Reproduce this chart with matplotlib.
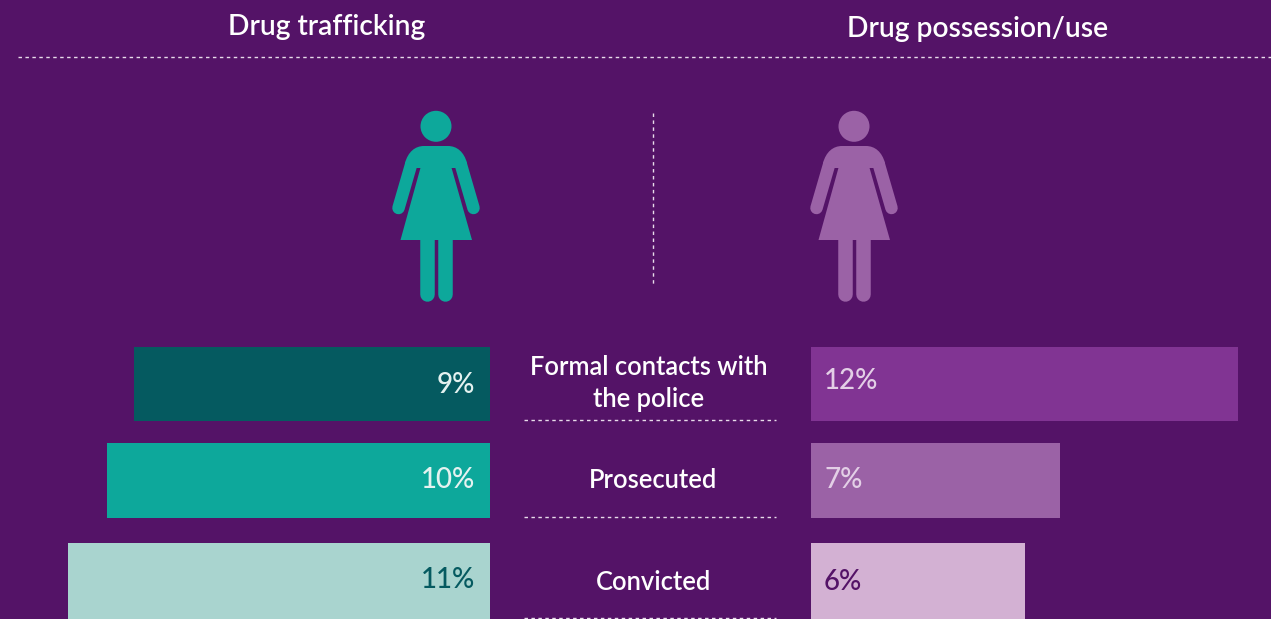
import matplotlib
matplotlib.use("Agg")
import matplotlib.pyplot as plt
from matplotlib.path import Path
from matplotlib.patches import PathPatch, Circle

plt.rcParams['font.family'] = ['Lato', 'DejaVu Sans']

# Data
stages = ["Formal contacts with\nthe police", "Prosecuted", "Convicted"]
trafficking = [9.3, 10.0, 11.0]
trafficking_labels = ["9%", "10%", "11%"]
possession = [12, 7, 6]
possession_labels = ["12%", "7%", "6%"]
titles = ["Drug trafficking", "Drug possession/use"]

BG = "#541367"
W, H = 1271, 619
fig = plt.figure(figsize=(W / 100, H / 100), dpi=100, facecolor=BG)

base = fig.add_axes([0, 0, 1, 1])
base.set_xlim(0, W)
base.set_ylim(H, 0)
base.axis("off")

y_pos = [384, 480.5, 581]
bar_h = [74, 74.5, 76]


def bar_axes(x0, x1, xlim):
    a = fig.add_axes([x0 / W, 0, (x1 - x0) / W, 1])
    a.set_xlim(*xlim)
    a.set_ylim(H, 0)
    a.axis("off")
    a.patch.set_alpha(0)
    return a


PX_L, PX_R = 38.3, 35.6
left = bar_axes(0, 489.7, (489.7 / PX_L, 0))
right = bar_axes(811, W, (0, (W - 811) / PX_R))

left.barh(y_pos, trafficking, height=bar_h, color=["#055a60", "#0da89b", "#a9d4cf"])
right.barh(y_pos, possession, height=bar_h, color=["#813493", "#9b62a6", "#d3b1d3"])

FS = 20
for y, lab, c, dy in zip(y_pos, trafficking_labels, ["#e4f2f0", "#e4f2f0", "#055a60"], [1, 0, -1.5]):
    left.annotate(lab, (0, y + dy), xytext=(-15 * 0.72, 0), textcoords="offset points",
                  ha="right", va="center", color=c, fontsize=FS, fontweight="medium")
for y, lab, c, dy in zip(y_pos, possession_labels, ["#e3cfe6", "#e3cfe6", "#541367"], [-3, -1, 1]):
    right.annotate(lab, (0, y + dy), xytext=(13 * 0.72, 0), textcoords="offset points",
                   ha="left", va="center", color=c, fontsize=FS, fontweight="medium")

# Stage labels and separators
for x, y, lab, sep in zip([648.5, 653, 653.5], [383.5, 480, 582], stages, [420, 517, 618]):
    base.text(x, y, lab, ha="center", va="center", color="white", fontsize=18.4,
              fontweight="semibold", linespacing=1.34)
    base.plot([524, 776], [sep, sep], color="#e8dcea", lw=1, dashes=(2.5, 2.5))

# Titles
for x, y, t in zip([327, 978], [27, 28.5], titles):
    base.text(x, y, t, ha="center", va="center", color="white", fontsize=20.3, fontweight="semibold")

base.plot([18, W], [57, 57], color="#e8dcea", lw=1, dashes=(2.5, 2.5))
base.plot([653, 653], [113, 285], color="#e8dcea", lw=1, dashes=(2.5, 2.5))


def woman(dx, color):
    px = 0.72
    base.add_patch(Circle((436 + dx, 126.3), 15.5, fc=color, ec="none"))
    verts = [(405, 163), (408, 152), (415, 146), (424, 146), (448, 146), (457, 146),
             (464, 152), (467, 163), (467, 168), (405, 168), (405, 163)]
    codes = [Path.MOVETO, Path.CURVE4, Path.CURVE4, Path.CURVE4, Path.LINETO, Path.CURVE4,
             Path.CURVE4, Path.CURVE4, Path.LINETO, Path.LINETO, Path.CLOSEPOLY]
    base.add_patch(PathPatch(Path([(x + dx, y) for x, y in verts], codes), fc=color, ec="none"))
    notch = [(416.5, 168), (421.5, 168), (407, 215), (404, 205)]
    dress = [(421, 166), (451, 166), (472, 240), (400.5, 240)]
    base.fill([x + dx for x, y in notch], [y for x, y in notch], color=BG, lw=0, zorder=2)
    base.fill([871.5 - x + dx for x, y in notch], [y for x, y in notch], color=BG, lw=0, zorder=2)
    base.fill([x + dx for x, y in dress], [y for x, y in dress], color=color, lw=0, zorder=3)
    for xa, ya, xb, yb in [(411, 165, 398.5, 208), (461, 165, 473.5, 208)]:
        base.plot([xa + dx, xb + dx], [ya, yb], color=color, lw=12.5 * px,
                  solid_capstyle="round", zorder=3)
    for x in (426.5, 445):
        base.plot([x + dx, x + dx], [238, 294], color=color, lw=14.5 * px,
                  solid_capstyle="round", zorder=3)


woman(0, "#0da89b")
woman(418, "#9b62a6")

fig.savefig("out.png", dpi=100, facecolor=BG)
